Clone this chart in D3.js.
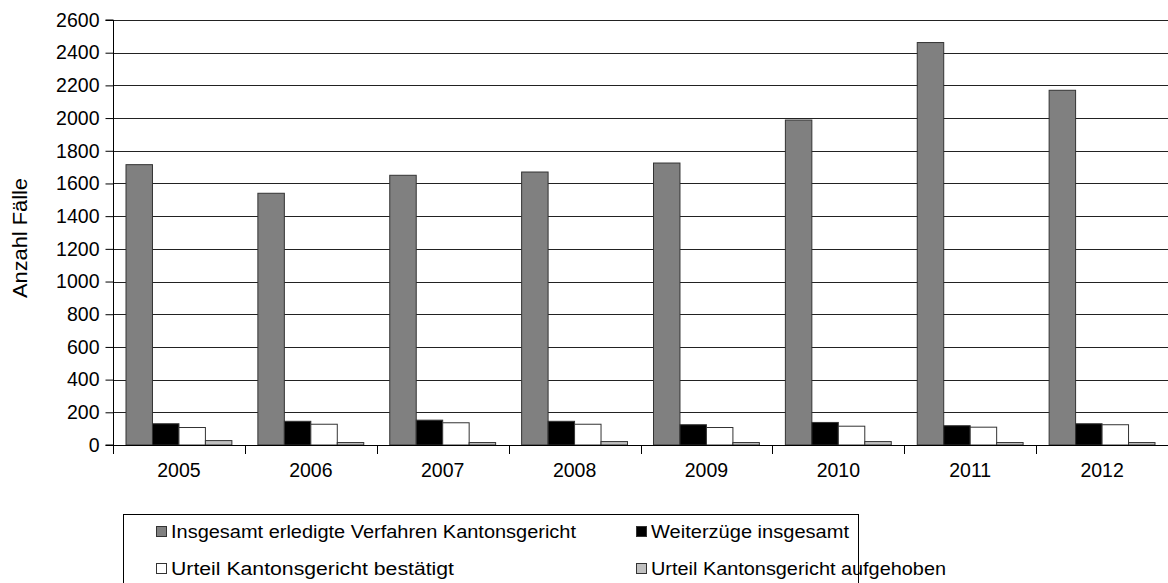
<!DOCTYPE html>
<html>
<head>
<meta charset="utf-8">
<script src="https://cdn.jsdelivr.net/npm/d3@7"></script>
<style>
	body { margin: 0; background: #fff; }
	svg { display: block; font-family: "Liberation Sans", Arial, sans-serif; }
</style>
</head>
<body>
<div class="container"></div>
<script>
// data
const years = ['2005', '2006', '2007', '2008', '2009', '2010', '2011', '2012']
const seriesNames = [
	'Insgesamt erledigte Verfahren Kantonsgericht',
	'Weiterzüge insgesamt',
	'Urteil Kantonsgericht bestätigt',
	'Urteil Kantonsgericht aufgehoben'
]
const erledigt = [1715, 1540, 1650, 1670, 1725, 1988, 2462, 2170]
const weiterzuege = [130, 145, 152, 145, 124, 138, 118, 130]
const bestaetigt = [107, 127, 136, 127, 107, 115, 109, 124]
const aufgehoben = [27, 15, 15, 21, 15, 21, 15, 15]
const yTicks = [0, 200, 400, 600, 800, 1000, 1200, 1400, 1600, 1800, 2000, 2200, 2400, 2600]
const colors = ['#808080', '#000000', '#ffffff', '#c0c0c0']

const seriesValues = [erledigt, weiterzuege, bestaetigt, aufgehoben]

const width = 1168
const height = 583
const mLeft = 113, mRight = 1168, mTop = 20, mBottom = 445

let svg = d3.select('.container')
	.append('svg')
	.attr('width', width)
	.attr('height', height)

let x = d3.scaleBand()
	.domain(years)
	.range([mLeft, mRight])
	.padding(0)

let inner = d3.scaleBand()
	.domain(d3.range(seriesNames.length))
	.range([13, x.bandwidth() - 13])
	.padding(0)

let y = d3.scaleLinear()
	.domain([0, 2600])
	.range([mBottom, mTop])

// gridlines
svg.append('g')
	.selectAll('line')
	.data(yTicks.filter(d => d > 0))
	.join('line')
	.attr('x1', mLeft)
	.attr('x2', mRight)
	.attr('y1', d => Math.round(y(d)) + 0.5)
	.attr('y2', d => Math.round(y(d)) + 0.5)
	.attr('stroke', '#222')
	.attr('stroke-width', 1)

// bars
seriesValues.forEach((vals, s) => {
	svg.append('g')
		.selectAll('rect')
		.data(vals)
		.join('rect')
		.attr('x', (d, i) => x(years[i]) + inner(s))
		.attr('y', d => y(d))
		.attr('width', inner.bandwidth())
		.attr('height', d => y(0) - y(d))
		.attr('fill', colors[s])
		.attr('stroke', '#333')
		.attr('stroke-width', 1)
})

// y axis
let yAxis = svg.append('g')
	.attr('transform', `translate(${mLeft + 0.5},0)`)
	.call(d3.axisLeft(y).tickValues(yTicks).tickSize(8).tickPadding(6).tickFormat(d3.format('d')))
yAxis.select('.domain').attr('stroke', '#000').attr('d', `M-8,${mTop}H0V${mBottom}H-8`)
yAxis.selectAll('text').attr('font-size', 19.5).attr('fill', '#000')
	.attr('font-family', '"Liberation Sans", Arial, sans-serif')

// x axis
let xAxis = svg.append('g')
	.attr('transform', `translate(0,${mBottom + 0.5})`)
	.call(d3.axisBottom(x).tickSize(0).tickPadding(18))
xAxis.select('.domain').attr('stroke', '#000').attr('d', `M${mLeft},0H${mRight}`)
xAxis.selectAll('text').attr('font-size', 19.5).attr('fill', '#000')
	.attr('font-family', '"Liberation Sans", Arial, sans-serif')

svg.append('g')
	.selectAll('line')
	.data(years)
	.join('line')
	.attr('x1', d => Math.round(x(d)) + 0.5)
	.attr('x2', d => Math.round(x(d)) + 0.5)
	.attr('y1', mBottom)
	.attr('y2', mBottom + 9)
	.attr('stroke', '#000')

// y title
svg.append('text')
	.attr('transform', 'translate(27,238) rotate(-90)')
	.attr('text-anchor', 'middle')
	.attr('font-size', 20)
	.attr('textLength', 120)
	.attr('lengthAdjust', 'spacingAndGlyphs')
	.text('Anzahl Fälle')

// legend
svg.append('rect')
	.attr('x', 123.5)
	.attr('y', 514.5)
	.attr('width', 735)
	.attr('height', 80)
	.attr('fill', 'none')
	.attr('stroke', '#000')

let legendPos = [[156, 532], [636, 532], [156, 569], [636, 569]]

let leg = svg.append('g')
	.selectAll('g')
	.data(seriesNames)
	.join('g')
	.attr('transform', (d, i) => `translate(${legendPos[i][0]},${legendPos[i][1]})`)

leg.append('rect')
	.attr('x', 0.5)
	.attr('y', -5.5)
	.attr('width', 10)
	.attr('height', 10)
	.attr('fill', (d, i) => colors[i])
	.attr('stroke', '#333')

leg.append('text')
	.attr('x', 15)
	.attr('y', 6)
	.attr('font-size', 17.5)
	.attr('textLength', (d, i) => [405, 198, 283, 295][i])
	.attr('lengthAdjust', 'spacingAndGlyphs')
	.text(d => d)
</script>
</body>
</html>
